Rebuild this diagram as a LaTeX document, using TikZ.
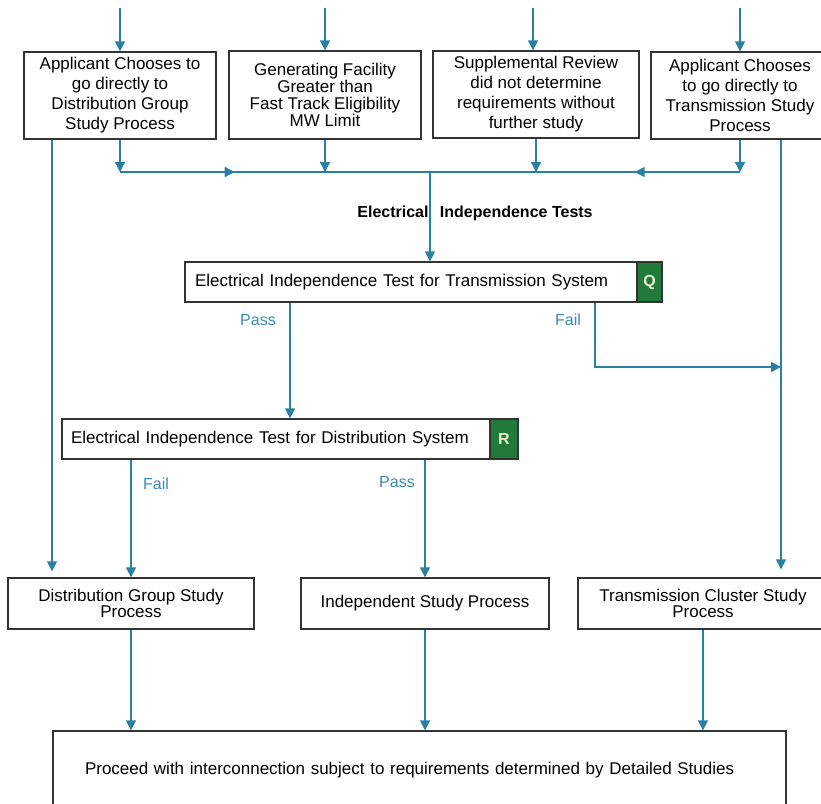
\documentclass[tikz,border=0pt]{standalone}
\usepackage{fontspec}
\setmainfont{Liberation Sans}
\usetikzlibrary{arrows.meta,positioning,decorations.markings}
\definecolor{flowblue}{HTML}{2A7FA3}
\definecolor{passblue}{HTML}{3A8BB5}
\definecolor{badgegreen}{HTML}{21793A}
\definecolor{badgetext}{HTML}{E6EFC4}
\tikzset{boxt/.style={draw=black!80, line width=1.3pt, fill=white, align=center, inner sep=0pt, font=\fontsize{17}{20}\selectfont}}
\tikzset{testbox/.style={boxt, align=left, inner xsep=10pt, minimum height=40pt}}
\tikzset{badge/.style={draw=black!80, line width=1.3pt, fill=badgegreen, text=badgetext, font=\bfseries\fontsize{16}{16}\selectfont, minimum height=40pt, inner sep=0pt}}
\tikzset{flow/.style={draw=flowblue, line width=1.4pt}}
\tikzset{arr/.style={flow, -{Triangle[length=10pt,width=10pt]}}}
\tikzset{lbl/.style={text=passblue, font=\fontsize{16}{16}\selectfont}}

\begin{document}
\begin{tikzpicture}[x=1pt, y=-1pt]
    \useasboundingbox (0,0) rectangle (821,803);

    \node[boxt, minimum width=192pt, minimum height=87pt] (a) at (120,95.5) {Applicant Chooses to\\go directly to\\Distribution Group\\Study Process};
    \node[boxt, minimum width=192pt, minimum height=88pt, font=\fontsize{17}{17}\selectfont] (b) at (325,95) {Generating Facility\\Greater than\\Fast Track Eligibility\\MW Limit};
    \node[boxt, minimum width=206pt, minimum height=87pt] (c) at (536,94.5) {Supplemental Review\\did not determine\\requirements without\\further study};
    \node[boxt, minimum width=178pt, minimum height=87pt] (d) at (740,95.5) {Applicant Chooses\\to go directly to\\Transmission Study\\Process};

    \coordinate (ina) at (120,8);
    \coordinate (inb) at (325,8);
    \coordinate (inc) at (533,8);
    \coordinate (ind) at (740,8);
    \coordinate (mrg) at (430,172);
    \coordinate (lft) at (52,400);
    \coordinate (qf) at (595,367);
    \coordinate (rgt) at (781,367);

    \node[font=\bfseries\fontsize{16}{16}\selectfont] (eit) at (475,213) {Electrical\hspace{7pt} Independence Tests};

    \node[testbox, minimum width=477pt, text width=457pt] (q) at (423.5,282) {Electrical Independence Test for Transmission System};
    \node[badge, minimum width=25pt] (qb) at (649.5,282) {Q};
    \node[testbox, minimum width=456pt, text width=438pt, inner xsep=8pt] (r) at (290,439) {Electrical Independence Test for Distribution System};
    \node[badge, minimum width=28pt] (rb) at (504,439) {R};

    \node[lbl] (qp) at (258,320) {Pass};
    \node[lbl] (qfl) at (568,320) {Fail};
    \node[lbl] (rf) at (156,484) {Fail};
    \node[lbl] (rp) at (397,482) {Pass};

    \node[boxt, minimum width=246pt, minimum height=51pt, font=\fontsize{17}{16}\selectfont] (dg) at (131,603.5) {Distribution Group Study\\Process};
    \node[boxt, minimum width=248pt, minimum height=51pt] (is) at (425,603.5) {Independent Study Process};
    \node[boxt, minimum width=250pt, minimum height=51pt, font=\fontsize{17}{16}\selectfont] (tc) at (703,603.5) {Transmission Cluster Study\\Process};
    \node[boxt, align=left, inner xsep=32pt, minimum width=733pt, text width=669pt, minimum height=79pt] (fin) at (419.5,770.5) {Proceed with interconnection subject to requirements determined by Detailed Studies};

    \draw[arr] (ina) -- (ina |- a.north);
    \draw[arr] (inb) -- (inb |- b.north);
    \draw[arr] (inc) -- (inc |- c.north);
    \draw[arr] (ind) -- (ind |- d.north);

    \draw[arr] (a.south) -- (a.south |- mrg);
    \draw[arr] (b.south) -- (b.south |- mrg);
    \draw[arr] (c.south) -- (c.south |- mrg);
    \draw[arr] (d.south) -- (d.south |- mrg);
    \draw[flow, postaction=decorate, decoration={markings,
        mark=at position 0.185 with {\arrow{Triangle[length=10pt,width=10pt]}},
        mark=at position 0.83 with {\arrowreversed{Triangle[length=10pt,width=10pt]}}}]
        (a.south |- mrg) -- (d.south |- mrg);
    \draw[arr] (mrg) -- (q.north -| mrg);

    \draw[arr, shorten >=6pt] (a.south -| lft) -- (dg.north -| lft);
    \draw[arr, shorten >=8pt] (d.south -| rgt) -- (tc.north -| rgt);

    \draw[arr] (q.south -| r.north) -- (r.north);
    \draw[arr] (q.south -| qf) -- (qf) -- (rgt);
    \draw[arr] (r.south -| dg.north) -- (dg.north);
    \draw[arr] (r.south -| is.north) -- (is.north);

    \draw[arr] (dg.south) -- (fin.north -| dg.south);
    \draw[arr] (is.south) -- (fin.north -| is.south);
    \draw[arr] (tc.south) -- (fin.north -| tc.south);
\end{tikzpicture}
\end{document}
